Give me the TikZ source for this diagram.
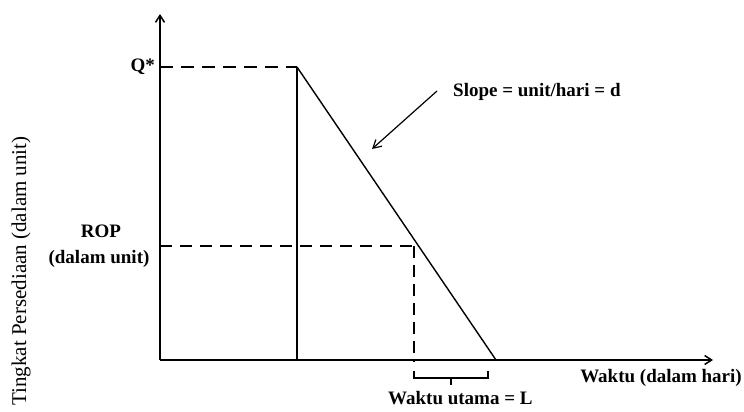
\documentclass[tikz,border=0pt]{standalone}
\usepackage{fontspec}
\setmainfont{Liberation Serif}
\usetikzlibrary{arrows.meta}
\begin{document}
\begin{tikzpicture}[x=1pt,y=-1pt,
  axis/.style={line width=1.5pt,-{Straight Barb[length=7pt,width=9pt]}},
  solid line/.style={line width=1.4pt},
  dashline/.style={line width=1.2pt,dash pattern=on 13pt off 8pt},
  lbl/.style={font=\bfseries\fontsize{19}{21}\selectfont,inner sep=0pt}]
\useasboundingbox (0,0) rectangle (744,412);
\coordinate (O) at (160,360);
\coordinate (ytop) at (160,14);
\coordinate (xend) at (713,360);
\coordinate (qs) at (160,67);
\coordinate (qtop) at (297,67);
\coordinate (qbot) at (297,360);
\coordinate (zero) at (496,360);
\coordinate (rs) at (160,246);
\coordinate (rp) at (414,246);
\coordinate (rb) at (414,362);
\draw[axis] (O) -- (ytop);
\draw[axis] (O) -- (xend);
\draw[dashline] (qs) -- (qtop);
\draw[solid line] (qtop) -- (qbot);
\draw[solid line] (qtop) -- (zero);
\draw[dashline,dash pattern=on 12pt off 8pt] (rs) -- (rp);
\draw[dashline,dash pattern=on 12pt off 7pt] (rp) -- (rb);
% brace
\coordinate (bl) at (414,371);
\coordinate (br) at (488,371);
\coordinate (bm) at (451,378);
\coordinate (bt) at (451,385);
\draw[line width=1.2pt] (bl) |- (bm) -| (br);
\draw[line width=1.2pt] (bm) -- (bt);
% slope arrow
\coordinate (as) at (437,91);
\coordinate (ae) at (372,149);
\draw[line width=1.2pt,-{Straight Barb[length=8pt,width=9pt]}] (as) -- (ae);
\node[lbl,anchor=west] (slope) at (453,92) {Slope = unit/hari = d};
\node[lbl,anchor=east] (qstar) at (155,67) {Q*};
\node[lbl] (rop) at (101,231) {ROP};
\node[lbl] (ropu) at (99,259) {(dalam unit)};
\node[lbl,anchor=east] (waktu) at (742,378) {Waktu (dalam hari)};
\node[lbl,anchor=west] (wu) at (388,398) {Waktu utama = L};
\node[inner sep=0pt,rotate=90,font=\fontsize{21}{23}\selectfont] (ylab) at (21,271) {Tingkat Persediaan (dalam unit)};
\end{tikzpicture}
\end{document}
